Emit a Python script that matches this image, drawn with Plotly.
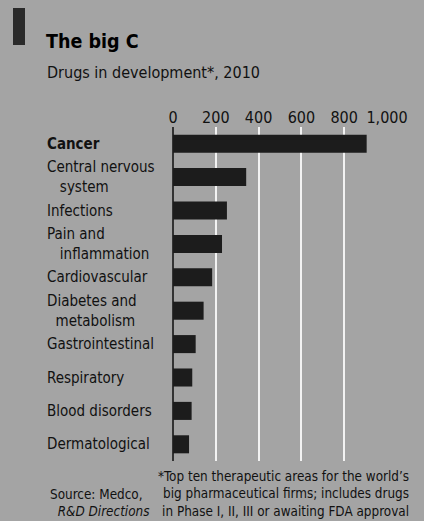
import plotly.graph_objects as go

categories = ["Cancer", "Central nervous system", "Infections", "Pain and inflammation",
              "Cardiovascular", "Diabetes and metabolism", "Gastrointestinal",
              "Respiratory", "Blood disorders", "Dermatological"]
label_text = ["<b>Cancer</b>", "Central nervous<br>\u00a0\u00a0\u00a0system", "Infections",
              "Pain and<br>\u00a0\u00a0\u00a0inflammation", "Cardiovascular",
              "Diabetes and<br>\u00a0\u00a0metabolism", "Gastrointestinal",
              "Respiratory", "Blood disorders", "Dermatological"]
values = [905, 342, 252, 229, 183, 143, 106, 90, 87, 75]
tick_vals = [0, 200, 400, 600, 800, 1000]
tick_text = ["0", "200", "400", "600", "800", "1,000"]

W, H = 424, 521
L, R, T, B = 173, 37, 127, 60
BG = "#a4a4a4"
FONT = "DejaVu Sans Condensed, Roboto, sans-serif"

fig = go.Figure(go.Bar(
    x=values, y=categories, orientation="h",
    marker=dict(color="#1c1c1c", line=dict(width=0)),
    width=0.54,
    hoverinfo="skip",
))

pw = W - L - R
def px_x(xpix):
    return (xpix - L) / pw
def px_y(ypix):
    return 1 - (ypix - T) / (H - T - B)

ann = []
for c, t in zip(categories, label_text):
    ann.append(dict(x=px_x(45), y=c, xref="paper", yref="y", text=t, showarrow=False,
                    xanchor="left", yanchor="middle", align="left",
                    font=dict(size=15, color="#111", family=FONT)))

ann += [
    dict(x=px_x(44), y=px_y(41), xref="paper", yref="paper", text="<b>The big C</b>",
         showarrow=False, xanchor="left", yanchor="middle",
         font=dict(size=19.5, color="#000", family=FONT)),
    dict(x=px_x(45), y=px_y(73), xref="paper", yref="paper", text="Drugs in development*, 2010",
         showarrow=False, xanchor="left", yanchor="middle",
         font=dict(size=16, color="#111", family=FONT)),
    dict(x=px_x(411), y=px_y(494), xref="paper", yref="paper",
         text="*Top ten therapeutic areas for the world\u2019s<br>big pharmaceutical firms; includes drugs<br>in Phase I, II, III or awaiting FDA approval",
         showarrow=False, xanchor="right", yanchor="middle", align="right",
         font=dict(size=13.4, color="#111", family=FONT)),
    dict(x=px_x(48), y=px_y(503), xref="paper", yref="paper",
         text="Source: Medco,<br>\u00a0\u00a0<i>R&D Directions</i>",
         showarrow=False, xanchor="left", yanchor="middle", align="left",
         font=dict(size=13.4, color="#111", family=FONT)),
]

fig.update_layout(
    width=W, height=H,
    margin=dict(l=L, r=R, t=T, b=B),
    paper_bgcolor=BG, plot_bgcolor=BG,
    showlegend=False,
    annotations=ann,
    shapes=[dict(type="rect", xref="paper", yref="paper",
                 x0=px_x(13), x1=px_x(25), y0=px_y(45), y1=px_y(8),
                 fillcolor="#2a2a2a", line=dict(width=0))],
    xaxis=dict(side="top", range=[0, 1000], tickvals=tick_vals, ticktext=tick_text,
               showgrid=True, gridcolor="#f2f2f2", gridwidth=1.5,
               zeroline=True, zerolinecolor="#333", zerolinewidth=1.5,
               ticks="", showline=False,
               tickfont=dict(size=16, color="#111", family=FONT)),
    yaxis=dict(categoryorder="array", categoryarray=categories, autorange="reversed",
               showticklabels=False, showgrid=False, zeroline=False, ticks=""),
    bargap=0.46,
)

fig.write_html("out.html", config={"displayModeBar": False},
               post_script="document.body.style.margin='0';document.body.style.overflow='hidden';document.body.style.background='" + BG + "';")
